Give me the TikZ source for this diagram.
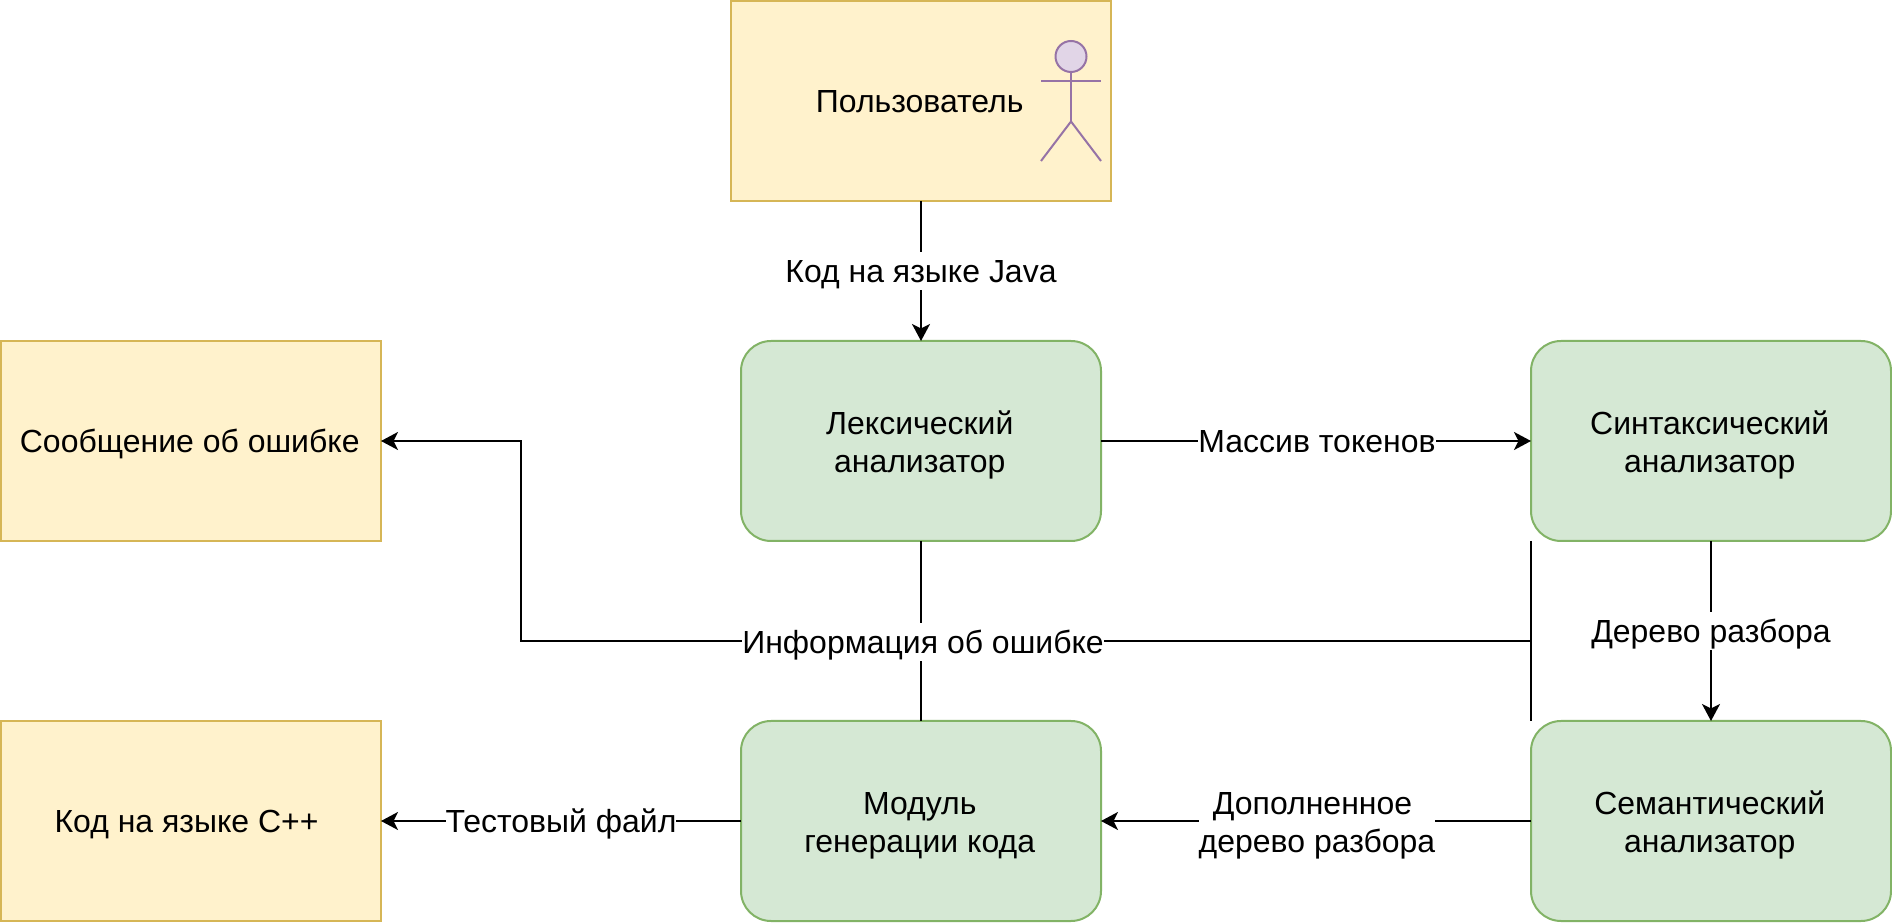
\documentclass[tikz,border=0pt]{standalone}
\usepackage{fontspec}
\setmainfont{Liberation Sans}
\usetikzlibrary{arrows.meta}
\definecolor{noteFill}{HTML}{FFF2CC}
\definecolor{noteLine}{HTML}{D6B656}
\definecolor{stageFill}{HTML}{D5E8D4}
\definecolor{stageLine}{HTML}{82B366}
\definecolor{actorFill}{HTML}{E1D5E7}
\definecolor{actorLine}{HTML}{9673A6}
\newcommand{\nudge}{\kern0.05cm}
\newcommand{\twolines}[2]{\rule{0pt}{0.63cm}#1\nudge\\#2\nudge}
\tikzset{>={Stealth[length=0.34cm,width=0.36cm,inset=0.09cm]}}
\tikzset{
  % boxes of the pipeline
  note/.style={draw=noteLine, fill=noteFill, line width=0.04cm, outer sep=0pt, inner sep=0pt, minimum width=7.6cm, minimum height=4cm, text height=0.615cm, text depth=0.155cm, font=\fontsize{18.2pt}{21.9pt}\selectfont},
  stage/.style={draw=stageLine, fill=stageFill, line width=0.04cm, outer sep=0pt, inner sep=0pt, minimum width=7.2cm, minimum height=4cm, rounded corners=0.6cm, align=center, font=\fontsize{18.2pt}{21.9pt}\selectfont},
  % text sitting on a connector
  edgetext/.style={fill=white, inner sep=0pt, text height=0.615cm, text depth=0.155cm, font=\fontsize{18.2pt}{21.9pt}\selectfont},
  edgetwo/.style={fill=white, inner sep=0pt, align=center, font=\fontsize{18.2pt}{21.9pt}\selectfont},
  link/.style={line width=0.04cm, black},
  actor/.style={draw=actorLine, line width=0.04cm},
}
\begin{document}
\begin{tikzpicture}
                \useasboundingbox (0,0) rectangle (37.84,18.44);

                \node[note] (user) at (18.42,16.42) {Пользователь\nudge};
                \node[note] (err) at (3.82,9.62) {Сообщение об ошибке\nudge};
                \node[note] (cpp) at (3.82,2.02) {Код на языке C++\ \null};

                \node[stage] (lexer) at (18.42,9.62) {\twolines{Лексический}{анализатор}};
                \node[stage] (syntax) at (34.22,9.62) {\twolines{Синтаксический}{анализатор}};
                \node[stage] (semantic) at (34.22,2.02) {\twolines{Семантический}{анализатор}};
                \node[stage] (gen) at (18.42,2.02) {\twolines{Модуль}{генерации кода}};

                \draw[actor, fill=actorFill] (21.42,17.31) circle (0.31);
                \draw[actor] (21.42,17.0) -- (21.42,16.01);
                \draw[actor] (20.82,16.82) -- (22.02,16.82);
                \draw[actor] (20.82,15.22) -- (21.42,16.01) -- (22.02,15.22);

                \draw[link, ->] (user) -- node[edgetext] (javalabel) {Код на языке Java} (lexer);
                \draw[link, ->] (lexer) -- node[edgetext, xshift=0.02cm] (tokenlabel) {Массив токенов} (syntax);
                \draw[link, ->] (syntax) -- node[edgetext] (treelabel) {Дерево разбора} (semantic);
                \draw[link, ->] (semantic) -- node[edgetwo, xshift=0.02cm] (fulltreelabel) {\rule{0pt}{0.63cm}Дополненное\ \null\\дерево разбора} (gen);
                \draw[link, ->] (gen) -- node[edgetext] (testlabel) {Тестовый файл} (cpp);

                \coordinate (joint) at (30.62,5.62);
                \coordinate (bend) at (10.42,5.62);
                \draw[link] (syntax.south west) -- (semantic.north west);
                \draw[link] (lexer) -- (gen);
                \draw[link, ->] (joint) -- (bend) |- (err);
                \node[edgetext] (infolabel) at (18.46,5.6) {Информация об ошибке};
            \end{tikzpicture}
\end{document}
